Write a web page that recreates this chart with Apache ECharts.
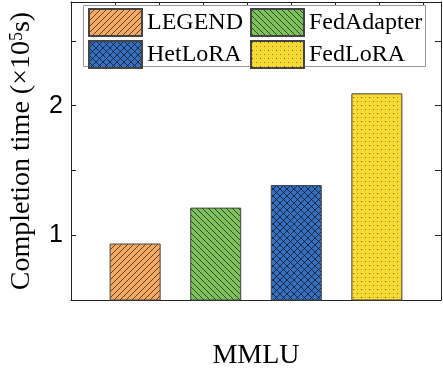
<!DOCTYPE html>
<html>
<head>
<meta charset="utf-8">
<script src="https://cdn.jsdelivr.net/npm/echarts@6/dist/echarts.min.js"></script>
<style>
  * { padding: 0; margin: 0 }
  html, body { width: 100%; height: 100%; background: #fff }
  #container { width: 443px; height: 370px }
</style>
</head>
<body>
<div id="container"></div>
<script>
  // data
  const categories = ['MMLU'];
  const methods = ['LEGEND', 'FedAdapter', 'HetLoRA', 'FedLoRA'];
  const completionTime = [0.936, 1.213, 1.387, 2.095]; // x10^5 s
  const yTickLabels = [1, 2];
  const topTickCount = 8.41; // top box ticks, step 1

  const fills = ['#F5AA63', '#7DC15D', '#3570BE', '#F9D933'];

  // hatch patterns drawn into small canvases
  function makePattern(bg, kind) {
    const s = kind === 'cross' ? 7 : (kind === 'dots' ? 8 : 6);
    const c = document.createElement('canvas');
    c.width = s; c.height = s;
    const ctx = c.getContext('2d');
    ctx.fillStyle = bg;
    ctx.fillRect(0, 0, s, s);
    ctx.strokeStyle = 'rgba(0,0,0,0.62)';
    ctx.lineWidth = 1;
    function slash() {
      ctx.beginPath();
      ctx.moveTo(-1, s + 1); ctx.lineTo(s + 1, -1);
      ctx.moveTo(-1, 1); ctx.lineTo(1, -1);
      ctx.moveTo(s - 1, s + 1); ctx.lineTo(s + 1, s - 1);
      ctx.stroke();
    }
    function back() {
      ctx.beginPath();
      ctx.moveTo(-1, -1); ctx.lineTo(s + 1, s + 1);
      ctx.moveTo(s - 1, -1); ctx.lineTo(s + 1, 1);
      ctx.moveTo(-1, s - 1); ctx.lineTo(1, s + 1);
      ctx.stroke();
    }
    if (kind === 'slash') slash();
    if (kind === 'back') back();
    if (kind === 'cross') { slash(); back(); }
    if (kind === 'dots') {
      ctx.fillStyle = 'rgba(0,0,0,0.6)';
      ctx.fillRect(1, 1, 1, 1);
      ctx.fillStyle = 'rgba(110,90,0,0.35)';
      ctx.fillRect(5, 1, 1, 1);
      ctx.fillRect(1, 5, 1, 1);
      ctx.fillStyle = 'rgba(0,0,0,0.45)';
      ctx.fillRect(5, 5, 1, 1);
    }
    return { image: c, repeat: 'repeat' };
  }
  const kinds = ['slash', 'back', 'cross', 'dots'];

  const chart = echarts.init(document.getElementById('container'), null, { renderer: 'canvas' });

  const axisColor = '#222';
  const series = methods.map((m, i) => ({
    name: m,
    type: 'bar',
    barWidth: 51,
    barGap: '58%',
    data: [completionTime[i]],
    itemStyle: {
      color: makePattern(fills[i], kinds[i]),
      borderColor: '#444',
      borderWidth: 1
    }
  }));

  const legendText = { fontFamily: 'Liberation Serif', fontSize: 24, color: '#000' };

  chart.setOption({
    animation: false,
    grid: { left: 71, right: 2, top: 2, bottom: 70 },
    graphic: [{
      type: 'rect',
      left: 83, top: 5,
      shape: { width: 342, height: 61 },
      style: { fill: '#fff', stroke: '#999', lineWidth: 1 },
      z: 2
    }],
    legend: [{
      data: [methods[0], methods[2]],
      orient: 'vertical',
      left: 88, top: 8,
      itemWidth: 53, itemHeight: 27,
      itemGap: 3,
      padding: 0,
      icon: 'rect',
      textStyle: legendText,
      z: 5
    }, {
      data: [methods[1], methods[3]],
      orient: 'vertical',
      left: 250, top: 8,
      itemWidth: 53, itemHeight: 27,
      itemGap: 3,
      padding: 0,
      icon: 'rect',
      textStyle: legendText,
      z: 5
    }],
    xAxis: [{
      type: 'category',
      data: categories,
      position: 'bottom',
      axisLine: { lineStyle: { color: axisColor, width: 1 } },
      axisTick: { show: false },
      axisLabel: { fontFamily: 'Liberation Serif', fontSize: 28, color: '#000', margin: 42 }
    }, {
      type: 'value',
      position: 'top',
      min: 0, max: topTickCount, interval: 1,
      axisLine: { show: true, lineStyle: { color: axisColor, width: 1 } },
      axisTick: { show: true, inside: true, length: 5, lineStyle: { color: axisColor } },
      axisLabel: { show: false },
      splitLine: { show: false }
    }],
    yAxis: [{
      type: 'value',
      min: 0.5, max: 2.8, interval: 0.5,
      name: '{a|Completion time (×10}{b|5}{a|s)}',
      nameLocation: 'middle',
      nameGap: 35,
      nameRotate: 90,
      nameTextStyle: {
        rich: {
          a: { fontFamily: 'Liberation Serif', fontSize: 28, color: '#000' },
          b: { fontFamily: 'Liberation Serif', fontSize: 18, color: '#000', verticalAlign: 'top', padding: [0, 0, 10, 0] }
        }
      },
      axisLine: { show: true, lineStyle: { color: axisColor, width: 1 } },
      axisTick: { show: true, inside: true, length: 5, lineStyle: { color: axisColor } },
      axisLabel: {
        fontFamily: 'Liberation Sans', fontSize: 25, color: '#000', margin: 8,
        formatter: v => (yTickLabels.indexOf(v) >= 0 ? String(v) : '')
      },
      splitLine: { show: false }
    }, {
      type: 'value',
      position: 'right',
      min: 0.5, max: 2.8, interval: 0.5,
      axisLine: { show: true, lineStyle: { color: axisColor, width: 1 } },
      axisTick: { show: true, inside: true, length: 6, lineStyle: { color: axisColor } },
      axisLabel: { show: false },
      splitLine: { show: false }
    }],
    series: series
  });
</script>
</body>
</html>
